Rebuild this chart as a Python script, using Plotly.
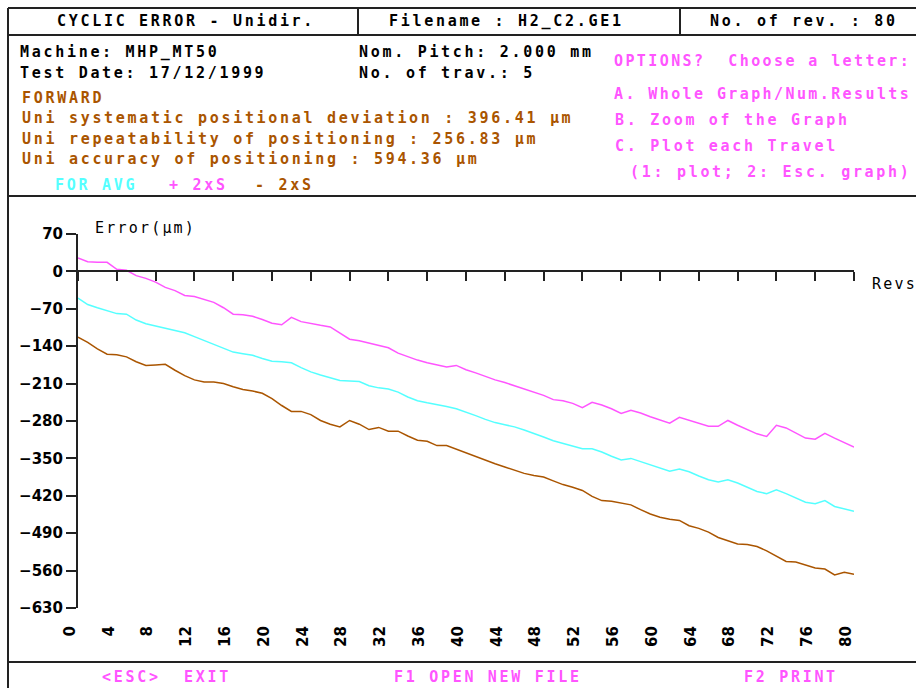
import plotly.graph_objects as go

revs = list(range(0, 81))

plus_2s = [25, 18, 17, 17, 4, 2, -8, -13, -20, -30,
           -36, -45, -47, -52, -58, -68, -80, -81, -84, -90,
           -97, -100, -86, -94, -98, -101, -104, -115, -127, -130,
           -134, -138, -143, -153, -160, -166, -171, -175, -179, -176,
           -184, -190, -197, -203, -208, -214, -220, -226, -232, -240,
           -242, -247, -255, -245, -250, -257, -266, -260, -265, -272,
           -278, -284, -273, -279, -285, -290, -290, -279, -288, -296,
           -304, -309, -288, -293, -302, -312, -314, -303, -312, -320,
           -329]

avg = [-50, -62, -68, -73, -79, -80, -91, -98, -102, -106,
       -110, -115, -122, -129, -136, -144, -151, -154, -157, -163,
       -168, -169, -171, -180, -188, -194, -199, -204, -205, -206,
       -214, -218, -220, -226, -235, -242, -246, -249, -253, -257,
       -263, -270, -277, -283, -287, -291, -297, -303, -310, -317,
       -322, -327, -332, -332, -338, -346, -353, -350, -356, -362,
       -368, -374, -370, -375, -383, -390, -394, -390, -396, -404,
       -412, -416, -409, -416, -424, -432, -435, -429, -440, -444,
       -449]

minus_2s = [-123, -133, -145, -155, -156, -160, -169, -176, -175, -174,
            -185, -195, -203, -207, -207, -210, -216, -221, -224, -228,
            -238, -251, -262, -262, -268, -279, -286, -291, -279, -286,
            -296, -292, -299, -299, -308, -316, -318, -326, -326, -333,
            -340, -347, -353, -360, -366, -372, -378, -382, -385, -392,
            -399, -404, -410, -421, -429, -430, -433, -437, -446, -454,
            -460, -464, -466, -476, -481, -488, -498, -504, -510, -511,
            -515, -523, -533, -543, -544, -550, -555, -557, -568, -563,
            -567]

y_ticks = [70, 0, -70, -140, -210, -280, -350, -420, -490, -560, -630]
x_ticks = list(range(0, 81, 4))

MAG = "#FF55FF"
CYA = "#55FFFF"
BRN = "#AA5500"

# body margin removed by post_script: figure fills the 916x688 viewport
OFF = 0
W, H = 916, 688
def px(x): return (x - OFF) / W
def py(y): return 1 - (y - OFF) / H

x0, x1 = 78, 854
ytop, ybot = 234, 608
dom_y = [py(ybot), py(ytop)]
zero_pos = dom_y[0] + (0 - (-630)) / 700 * (dom_y[1] - dom_y[0])

fig = go.Figure()
for vals, col, name, xa in [(plus_2s, MAG, "+ 2xS", "x"), (avg, CYA, "FOR AVG", "x2"),
                            (minus_2s, BRN, "- 2xS", "x")]:
    fig.add_trace(go.Scatter(x=revs, y=vals, mode="lines", name=name,
                             line=dict(color=col, width=1.5),
                             xaxis=xa, yaxis="y", showlegend=False, hoverinfo="skip"))

fig.update_layout(
    template="none",
    width=W, height=H, margin=dict(l=0, r=0, t=0, b=0, pad=0, autoexpand=False),
    paper_bgcolor="white", plot_bgcolor="white", showlegend=False,
    xaxis=dict(domain=[px(x0), px(x1)], range=[0, 80], tickvals=x_ticks,
               ticktext=[str(v) for v in x_ticks], tickangle=-90, automargin=False,
               showline=False, showgrid=False, zeroline=False, ticks="",
               ticklabelstandoff=14, ticklabelshift=-8,
               tickfont=dict(family="DejaVu Sans", size=15, color="black", weight="bold"),
               anchor="y"),
    xaxis2=dict(domain=[px(x0), px(x1)], range=[0, 80], tickvals=x_ticks, automargin=False,
                overlaying="x", anchor="free", position=zero_pos, side="bottom",
                showline=True, linecolor="#222222", linewidth=2,
                ticks="outside", ticklen=9, tickwidth=2, tickcolor="#222222",
                showticklabels=False, showgrid=False, zeroline=False),
    yaxis=dict(domain=dom_y, range=[-630, 70], tickvals=y_ticks, automargin=False,
               showline=True, linecolor="#222222", linewidth=2,
               ticks="outside", ticklen=10, tickwidth=2, tickcolor="#222222",
               showgrid=False, zeroline=False,
               tickfont=dict(family="DejaVu Sans", size=15, color="black", weight="bold")),
)

# frame lines
shapes = []
def hline(y, xa, xb):
    shapes.append(dict(type="line", xref="paper", yref="paper", x0=px(xa), x1=px(xb),
                       y0=py(y), y1=py(y), line=dict(color="#222222", width=2)))
def vline(x, ya, yb):
    shapes.append(dict(type="line", xref="paper", yref="paper", x0=px(x), x1=px(x),
                       y0=py(ya), y1=py(yb), line=dict(color="#222222", width=2)))
hline(8, 8, 916)
hline(35, 8, 916)
hline(196, 8, 916)
hline(662, 8, 916)
vline(8, 8, 688)
vline(358, 8, 35)
vline(680, 8, 35)
fig.update_layout(shapes=shapes)

def txt(x, y, s, color="black", bold=True, size=15, spacing=2.7, family="DejaVu Sans Mono"):
    s = s.replace(" ", "\u00a0")
    fig.add_annotation(xref="paper", yref="paper", x=px(x), y=py(y), xanchor="left", yanchor="middle",
                       text='<span style="letter-spacing:%.1fpx">%s</span>' % (spacing, s),
                       showarrow=False,
                       font=dict(family=family, size=size, color=color, weight="bold" if bold else "normal"))

txt(55, 21, "CYCLIC ERROR - Unidir.")
txt(387, 21, "Filename : H2_C2.GE1")
txt(708, 21, "No. of rev. : 80")
txt(18, 52, "Machine: MHP_MT50")
txt(18, 73, "Test Date: 17/12/1999")
txt(357, 52, "Nom. Pitch: 2.000 mm")
txt(357, 73, "No. of trav.: 5")
txt(20, 98, "FORWARD", BRN)
txt(20, 118, "Uni systematic positional deviation : 396.41 μm", BRN)
txt(20, 139, "Uni repeatability of positioning : 256.83 μm", BRN)
txt(20, 159, "Uni accuracy of positioning : 594.36 μm", BRN)
txt(53, 185, "FOR AVG", CYA)
txt(167, 185, "+ 2xS", MAG)
txt(253, 185, "- 2xS", BRN)
txt(612, 61, "OPTIONS?  Choose a letter:", MAG, spacing=2.4)
txt(612, 94, "A. Whole Graph/Num.Results", MAG, spacing=2.4)
txt(613, 120, "B. Zoom of the Graph", MAG)
txt(613, 146, "C. Plot each Travel", MAG)
txt(628, 172, "(1: plot; 2: Esc. graph)", MAG)
txt(100, 677, "&lt;ESC&gt;  EXIT", MAG)
txt(392, 677, "F1 OPEN NEW FILE", MAG)
txt(742, 677, "F2 PRINT", MAG)
txt(93, 228, "Error(μm)", bold=False, spacing=2.2)
txt(870, 284, "Revs", bold=False, spacing=2.2)

fig.write_html("out.html", config=dict(displayModeBar=False),
               post_script="document.body.style.margin='0';document.body.style.overflow='hidden';")
